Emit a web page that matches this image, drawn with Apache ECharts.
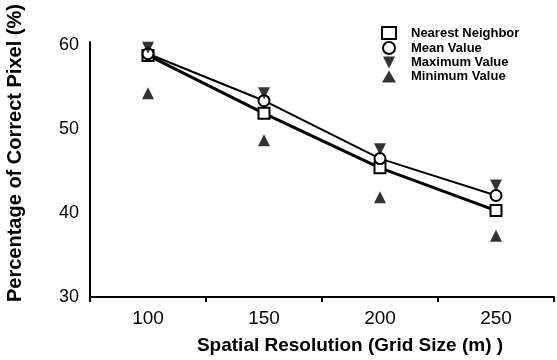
<!DOCTYPE html>
<html>
<head>
<meta charset="utf-8">
<script src="https://cdn.jsdelivr.net/npm/echarts@6/dist/echarts.min.js"></script>
<style>html,body{margin:0;padding:0;background:#fff;}#c{width:557px;height:360px;}</style>
</head>
<body>
<div id="c"></div>
<script>
const resolutions = [100, 150, 200, 250];
const xTickLabels = [100, 150, 200, 250];
const yTickLabels = [30, 40, 50, 60];
const nearestNeighbor = [58.8, 51.9, 45.4, 40.3];
const meanValue = [59.0, 53.4, 46.5, 42.1];
const maximumValue = [59.7, 54.3, 47.6, 43.3];
const minimumValue = [54.3, 48.7, 41.9, 37.3];

const pair = arr => resolutions.map((r, i) => [r, arr[i]]);
const font = 'Liberation Sans, Arial, sans-serif';

const chart = echarts.init(document.getElementById('c'), null, {renderer: 'canvas'});
chart.setOption({
  animation: false,
  backgroundColor: '#fff',
  grid: {left: 90, right: 0, top: 42, bottom: 63},
  xAxis: [{
    type: 'value', min: 75, max: 275, interval: 25,
    axisLine: {lineStyle: {color: '#000', width: 2}},
    axisTick: {show: false},
    splitLine: {show: false},
    axisLabel: {
      color: '#000', fontSize: 19, fontFamily: font, margin: 12,
      formatter: v => xTickLabels.includes(v) ? String(v) : ''
    }
  }, {
    type: 'value', min: 75, max: 275, interval: 50, position: 'bottom',
    axisLine: {show: false},
    axisTick: {show: true, length: 5, lineStyle: {color: '#000', width: 2}},
    axisLabel: {show: false},
    splitLine: {show: false}
  }],
  yAxis: {
    type: 'value', min: 30, max: 60.4, interval: 10,
    axisLine: {show: true, lineStyle: {color: '#000', width: 2}},
    axisTick: {show: false},
    splitLine: {show: false},
    axisLabel: {
      color: '#000', fontSize: 18, fontFamily: font, margin: 11,
      formatter: v => yTickLabels.includes(v) ? String(v) : ''
    }
  },
  legend: {
    orient: 'vertical', left: 381, top: 26, itemGap: 1, padding: 0,
    itemWidth: 14, itemHeight: 12,
    textStyle: {color: '#000', fontSize: 13, fontWeight: 'bold', fontFamily: font, padding: [0, 0, 0, 10], lineHeight: 13},
    data: [
      {name: 'Nearest Neighbor', icon: 'rect', itemStyle: {color: '#fff', borderColor: '#000', borderWidth: 2}},
      {name: 'Mean Value', icon: 'circle', itemStyle: {color: '#fff', borderColor: '#000', borderWidth: 2}},
      {name: 'Maximum Value', icon: 'path://M0,0L10,0L5,10Z', itemStyle: {color: '#000'}},
      {name: 'Minimum Value', icon: 'triangle', itemStyle: {color: '#000'}}
    ]
  },
  graphic: [
    {type: 'text', x: 350, y: 336, style: {text: 'Spatial Resolution (Grid Size (m) )', fill: '#000', font: 'bold 19px ' + font, textAlign: 'center'}},
    {type: 'text', rotation: Math.PI / 2, x: 5, y: 302, style: {text: 'Percentage of Correct Pixel (%)', fill: '#000', font: 'bold 20px ' + font}}
  ],
  series: [
    {name: 'Nearest Neighbor', type: 'line', data: pair(nearestNeighbor), symbol: 'rect', symbolSize: 11,
     lineStyle: {color: '#000', width: 3}, itemStyle: {color: '#fff', borderColor: '#000', borderWidth: 2}, z: 3},
    {name: 'Mean Value', type: 'line', data: pair(meanValue), symbol: 'circle', symbolSize: 11,
     lineStyle: {color: '#000', width: 2}, itemStyle: {color: '#fff', borderColor: '#000', borderWidth: 2}, z: 3},
    {name: 'Maximum Value', type: 'scatter', data: pair(maximumValue), symbol: 'triangle', symbolRotate: 180, symbolSize: 12,
     itemStyle: {color: '#000'}, z: 4},
    {name: 'Minimum Value', type: 'scatter', data: pair(minimumValue), symbol: 'triangle', symbolSize: 12,
     itemStyle: {color: '#000'}, z: 4}
  ]
});
</script>
</body>
</html>
